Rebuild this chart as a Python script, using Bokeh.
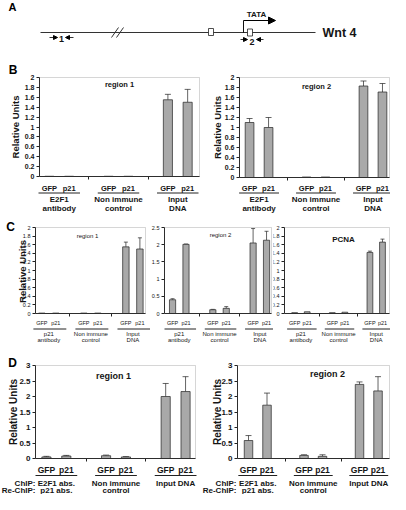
import math
from bokeh.plotting import figure
from bokeh.models import (Range1d, FixedTicker, NumeralTickFormatter, Label, Arrow,
                          Whisker, ColumnDataSource, TeeHead, NormalHead, BoxAnnotation)
from bokeh.layouts import column, row
from bokeh.embed import file_html
from bokeh.resources import INLINE

FONT = "Liberation Sans"
BAR = "#a9a9a9"
INK = "#151515"

# ---------------- data ----------------
sub_labels = ["GFP", "p21"]
b_groups = [["E2F1", "antibody"], ["Non immune", "control"], ["Input", "DNA"]]
c_groups = [["p21", "antibody"], ["Non immune", "control"], ["Input", "DNA"]]
d_groups = [["E2F1 abs.", "p21 abs."], ["Non immune", "control"], ["Input DNA"]]

b1_vals = [0.005, 0.005, 0.005, 0.005, 1.55, 1.50]
b1_err = [0, 0, 0, 0, 0.11, 0.26]
b2_vals = [1.10, 1.00, 0.01, 0.01, 1.83, 1.71]
b2_err = [0.08, 0.20, 0, 0, 0.10, 0.17]
c1_vals = [0.01, 0.01, 0.01, 0.01, 1.55, 1.50]
c1_err = [0, 0, 0, 0, 0.11, 0.26]
c2_vals = [0.40, 2.01, 0.11, 0.15, 2.05, 2.13]
c2_err = [0.03, 0.01, 0.01, 0.05, 0.42, 0.26]
c3_vals = [0.02, 0.04, 0.02, 0.03, 1.42, 1.66]
c3_err = [0, 0, 0, 0, 0.03, 0.07]
d1_vals = [0.05, 0.08, 0.09, 0.05, 2.00, 2.16]
d1_err = [0.02, 0.02, 0.02, 0.01, 0.42, 0.48]
d2_vals = [0.58, 1.72, 0.10, 0.07, 2.39, 2.18]
d2_err = [0.16, 0.39, 0.02, 0.05, 0.08, 0.46]


def lab(p, x, y, text, size, style="bold", align="center", baseline="middle",
        color=INK, angle=0.0):
    p.add_layout(Label(x=x, y=y, text=text, text_font=FONT, text_font_size=size,
                       text_font_style=style, text_align=align, text_baseline=baseline,
                       text_color=color, angle=angle))


def bar_panel(region, plot, xr, ymax, ystep, vals, errs, groups, sty):
    x0, y0, w, h = region
    fl, fr, ft, fb = plot

    def fx(px):
        return xr[0] + (px - fl) * (xr[1] - xr[0]) / (fr - fl)

    def fy(py):
        return (fb - py) * ymax / (fb - ft)

    p = figure(width=w, height=h,
               x_range=Range1d(fx(x0), fx(x0 + w)), y_range=Range1d(fy(y0 + h), fy(y0)),
               min_border_left=0, min_border_right=0, min_border_top=0, min_border_bottom=0,
               output_backend="svg", toolbar_location=None, title=None, tools="")
    p.xgrid.visible = False
    p.ygrid.visible = False
    p.outline_line_color = None
    p.background_fill_color = "white"
    p.border_fill_color = "white"

    # plot-area box
    p.add_layout(BoxAnnotation(left=xr[0], right=xr[1], bottom=0, top=ymax,
                               fill_color=None, line_color="#555555", line_width=0.8))

    xs = [3 * g + s for g in range(3) for s in range(2)]
    src = ColumnDataSource(dict(x=xs, top=vals))
    p.vbar(x="x", top="top", width=sty["bw"], source=src, fill_color=BAR,
           line_color="#222222", line_width=0.7)
    ex = [x for x, e in zip(xs, errs) if e > 0]
    elo = [v for v, e in zip(vals, errs) if e > 0]
    eup = [v + e for v, e in zip(vals, errs) if e > 0]
    esrc = ColumnDataSource(dict(x=ex, lo=elo, up=eup))
    p.add_layout(Whisker(source=esrc, base="x", lower="lo", upper="up", dimension="height",
                         upper_head=TeeHead(size=sty["cap"], line_width=0.7, line_color="#222222"),
                         lower_head=None, line_width=0.7, line_color="#222222"))

    ya = p.yaxis[0]
    ya.fixed_location = xr[0]
    ya.bounds = (0, ymax)
    ya.ticker = FixedTicker(ticks=[round(i * ystep, 3) for i in range(int(round(ymax / ystep)) + 1)])
    ya.formatter = NumeralTickFormatter(format="0.[0]")
    ya.major_label_text_font = FONT
    ya.major_label_text_font_size = sty["tick"]
    ya.major_label_text_font_style = sty["tickstyle"]
    ya.major_label_text_color = INK
    ya.major_tick_out = 3
    ya.major_tick_in = 0
    ya.minor_tick_line_color = None
    ya.major_label_standoff = 2
    ya.axis_line_color = "#222222"
    ya.major_tick_line_color = "#222222"

    xa = p.xaxis[0]
    xa.fixed_location = 0
    xa.bounds = (xr[0], xr[1])
    xa.ticker = FixedTicker(ticks=[2, 5])
    xa.major_label_overrides = {2: "", 5: ""}
    xa.major_tick_out = 3
    xa.major_tick_in = 0
    xa.minor_tick_line_color = None
    xa.axis_line_color = "#222222"
    xa.major_tick_line_color = "#222222"

    # category labels
    for g, grp in enumerate(groups):
        for s, sl in enumerate(sub_labels):
            lab(p, 3 * g + s, fy(sty["sub_y"]), sl, sty["subsize"], sty["substyle"])
        p.add_layout(Arrow(x_start=3 * g + sty["ul"][0], y_start=fy(sty["ul_y"]),
                           x_end=3 * g + sty["ul"][1], y_end=fy(sty["ul_y"]),
                           start=None, end=None, line_width=1, line_color="#222222"))
        for k, t in enumerate(grp):
            lab(p, 3 * g + 0.5, fy(sty["grp_y"][k]), t, sty["grpsize"], sty["grpstyle"])

    if sty.get("title"):
        tx, ty, tt, ts = sty["title"]
        lab(p, fx(tx), fy(ty), tt, ts, sty.get("titlestyle", "bold"))
    if sty.get("ylab"):
        lx, ly, ls = sty["ylab"]
        lab(p, fx(lx), fy(ly), "Relative Units", ls, "bold", angle=math.pi / 2)
    if sty.get("letter"):
        lx, ly, lt = sty["letter"]
        lab(p, fx(lx), fy(ly), lt, "12px", "bold", color="black")
    for (ex_, ey_, et, es) in sty.get("extra", []):
        lab(p, fx(ex_), fy(ey_), et, es, "bold", align="right")
    return p


# ---------------- panel A (schematic) ----------------
pa = figure(width=390, height=62, x_range=Range1d(0, 390), y_range=Range1d(62, 0),
            min_border=0, x_axis_location=None, y_axis_location=None,
            output_backend="svg", toolbar_location=None, title=None, tools="")
pa.xgrid.visible = False
pa.ygrid.visible = False
pa.outline_line_color = None
pa.segment(x0=[40], y0=[32], x1=[315], y1=[32], line_color="#333333", line_width=1)
pa.segment(x0=[111, 116], y0=[37, 37], x1=[118, 123], y1=[27, 27], line_color="#333333", line_width=1)
pa.segment(x0=[243], y0=[32.5], x1=[243], y1=[20], line_color="#111111", line_width=1)
pa.rect(x=[210.5, 249.5], y=[31.5, 32], width=5, height=7, fill_color="white",
        line_color="#222222", line_width=0.8)
pa.add_layout(Arrow(x_start=243, y_start=20, x_end=275, y_end=20, line_width=1,
                    end=NormalHead(size=7, fill_color="black", line_color="black")))
for xs_, xe_, yy in [(49, 57, 37), (73, 65, 37), (240, 247, 39), (263, 256, 39)]:
    pa.add_layout(Arrow(x_start=xs_, y_start=yy, x_end=xe_, y_end=yy, line_width=0.8,
                        end=NormalHead(size=4, fill_color="black", line_color="black")))
lab(pa, 61, 38.5, "1", "9px")
lab(pa, 251.5, 41, "2", "9px")
lab(pa, 256, 14, "TATA", "8px")
lab(pa, 322, 32.5, "Wnt 4", "12.5px", align="left")
lab(pa, 12, 6, "A", "11px", color="black")

# ---------------- panel B ----------------
styB = dict(bw=0.46, cap=6, tick="7px", tickstyle="bold", subsize="7.5px", substyle="bold",
            grpsize="8px", grpstyle="bold", sub_y=187.5, ul_y=192.5, grp_y=[199, 207.5],
            ul=(-0.55, 1.55))
b1 = bar_panel((0, 62, 212, 158), (39, 199, 77, 176), (-0.5, 7.6), 2, 0.2, b1_vals, b1_err, b_groups,
               dict(styB, title=(119, 84, "region 1", "7.5px"), letter=(12.5, 69, "B"),
                    ylab=(15, 126.5, "9.5px")))
b2 = bar_panel((212, 62, 178, 158), (239, 389, 77, 177), (-0.53, 7.37), 2, 0.2, b2_vals, b2_err, b_groups,
               dict(styB, title=(316, 86, "region 2", "7.5px"), ylab=(217, 127, "9.5px")))

# ---------------- panel C ----------------
styC = dict(bw=0.46, cap=4, tick="5.5px", tickstyle="normal", subsize="5.5px", substyle="normal",
            grpsize="6px", grpstyle="normal", sub_y=322.5, ul_y=328.5, grp_y=[333.5, 339.5],
            ul=(-0.6, 1.75))
c1 = bar_panel((0, 220, 150, 130), (35, 145, 227, 313), (-0.45, 7.4), 2, 0.2, c1_vals, c1_err, c_groups,
               dict(styC, title=(87, 235, "region 1", "6px"), titlestyle="normal",
                    letter=(10, 226, "C"), ylab=(22, 271, "9.5px")))
c2 = bar_panel((150, 220, 123, 130), (164, 271, 227, 313), (-0.6, 7.37), 2.5, 0.5, c2_vals, c2_err, c_groups,
               dict(styC, title=(220, 234, "region 2", "6px"), titlestyle="normal"))
c3 = bar_panel((273, 220, 117, 130), (284, 389, 227, 313), (-0.81, 7.56), 2, 0.2, c3_vals, c3_err, c_groups,
               dict(styC, title=(343, 239, "PCNA", "8px")))

# ---------------- panel D ----------------
styD = dict(bw=0.46, cap=6, tick="8px", tickstyle="bold", subsize="8.5px", substyle="bold",
            grpsize="8px", grpstyle="bold", sub_y=469.5, ul_y=475, grp_y=[482.5, 490],
            ul=(-0.55, 1.55))
d1 = bar_panel((0, 350, 200, 144), (35, 195, 365, 458), (-0.55, 7.5), 3, 0.5, d1_vals, d1_err, d_groups,
               dict(styD, title=(113, 375, "region 1", "9px"), letter=(12, 362, "D"),
                    ylab=(13, 411.5, "10px"),
                    extra=[(35, 482.5, "ChIP:", "8px"), (35, 490, "Re-ChIP:", "8px")]))
d2 = bar_panel((200, 350, 190, 144), (237, 389, 365, 458), (-0.595, 7.62), 3, 0.5, d2_vals, d2_err, d_groups,
               dict(styD, title=(327, 373, "region 2", "9px"), ylab=(217, 411.5, "10px"),
                    extra=[(236, 482.5, "ChIP:", "8px"), (236, 490, "Re-ChIP:", "8px")]))

layout = column(pa, row(b1, b2), row(c1, c2, c3), row(d1, d2))
open("out.html", "w").write(file_html(layout, INLINE))
